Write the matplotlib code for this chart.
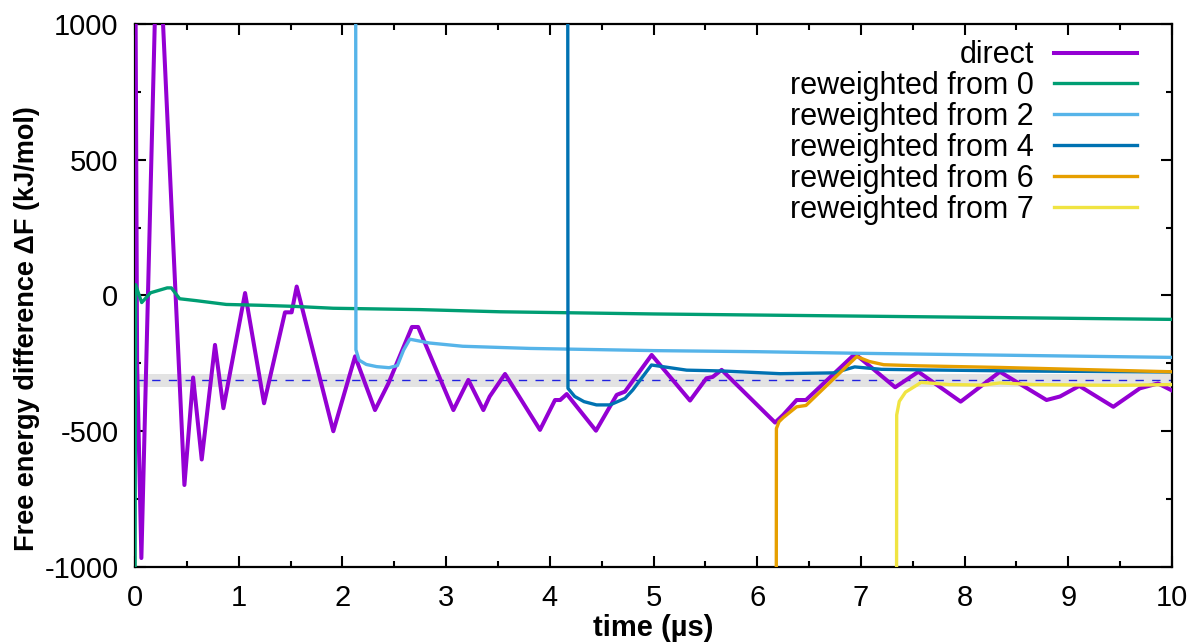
import numpy as np
import matplotlib.pyplot as plt
from matplotlib.ticker import MultipleLocator

plt.rcParams['font.family'] = ['Liberation Sans', 'DejaVu Sans']
plt.rcParams['axes.unicode_minus'] = False

# direct estimate
direct_t = [0.0, 0.02, 0.061, 0.19, 0.23, 0.27, 0.476, 0.56, 0.643, 0.771, 0.852, 1.061,
            1.244, 1.446, 1.51, 1.559, 1.912, 2.122, 2.314, 2.443, 2.67, 2.73, 3.07, 3.214,
            3.359, 3.42, 3.568, 3.905, 4.05, 4.10, 4.163, 4.445, 4.645, 4.725, 4.982, 5.352,
            5.51, 5.57, 5.657, 6.172, 6.25, 6.38, 6.47, 6.943, 7.33, 7.554, 7.962, 8.34,
            8.79, 8.92, 9.106, 9.434, 9.69, 9.865, 10.0]
direct_v = [1500, -250, -967, 1000, 1400, 1000, -698, -302, -604, -182, -415, 9,
            -397, -62, -62, 33, -500, -224, -422, -324, -116, -116, -422, -311,
            -422, -372, -289, -495, -385, -385, -363, -498, -366, -354, -219, -387,
            -305, -300, -274, -468, -440, -385, -385, -215, -338, -281, -391, -281,
            -385, -372, -333, -410, -342, -324, -350]

# reweighted from 0
rw0_t = [0.0, 0.005, 0.064, 0.15, 0.31, 0.35, 0.43, 0.59, 0.88, 1.2, 1.53, 1.91, 2.75,
         3.52, 5.0, 7.0, 8.5, 10.0]
rw0_v = [-1100, 40, -26, 10, 28, 28, -12, -19, -33, -36, -40, -47, -52,
         -60, -68, -76, -82, -88]

# reweighted from 2
rw2_t = [2.125, 2.13, 2.16, 2.23, 2.33, 2.45, 2.53, 2.59, 2.65, 2.84, 3.16, 3.81,
         5.0, 6.0, 7.0, 8.0, 9.0, 10.0]
rw2_v = [3000, -200, -238, -254, -262, -266, -258, -201, -161, -175, -187, -195,
         -203, -207, -213, -218, -223, -228]

# reweighted from 4
rw4_t = [4.170, 4.175, 4.24, 4.33, 4.45, 4.58, 4.725, 4.80, 4.98, 5.32, 5.66, 6.22,
         6.74, 6.94, 7.2, 7.6, 8.5, 10.0]
rw4_v = [3000, -342, -372, -391, -403, -403, -379, -348, -256, -275, -278, -288,
         -285, -263, -272, -274, -278, -282]

# reweighted from 6
rw6_t = [6.18, 6.185, 6.21, 6.25, 6.38, 6.47, 6.96, 7.08, 7.22, 7.55, 8.34, 10.0]
rw6_v = [-3000, -490, -465, -450, -410, -405, -225, -243, -255, -259, -265, -281]

# reweighted from 7
rw7_t = [7.34, 7.345, 7.37, 7.43, 7.54, 7.58, 7.85, 8.18, 8.34, 8.66, 9.46, 10.0]
rw7_v = [-3000, -440, -390, -356, -330, -320, -328, -330, -322, -328, -331, -328]

# reference value and its error band
ref_mean = -313
ref_err = 24

fig = plt.figure(figsize=(11.93, 6.43), dpi=100)
ax = fig.add_axes([0.1132, 0.1182, 0.8692, 0.8445])

ax.axhspan(ref_mean - ref_err, ref_mean + ref_err, color='#e3e3e3', lw=0, zorder=1)
ax.axhline(ref_mean, color='#2020e0', lw=1.0, dashes=(6, 6), zorder=2)

ax.plot(direct_t, direct_v, color='#9400d3', lw=2.9, label='direct', zorder=3)
ax.plot(rw0_t, rw0_v, color='#009e73', lw=2.4, label='reweighted from 0', zorder=4)
ax.plot(rw2_t, rw2_v, color='#56b4e9', lw=2.4, label='reweighted from 2', zorder=4)
ax.plot(rw4_t, rw4_v, color='#0072b2', lw=2.4, label='reweighted from 4', zorder=4)
ax.plot(rw6_t, rw6_v, color='#e69f00', lw=2.4, label='reweighted from 6', zorder=4)
ax.plot(rw7_t, rw7_v, color='#f0e442', lw=2.4, label='reweighted from 7', zorder=4)

ax.set_xlim(0, 10)
ax.set_ylim(-1000, 1000)
ax.xaxis.set_major_locator(MultipleLocator(1))
ax.xaxis.set_minor_locator(MultipleLocator(0.5))
ax.yaxis.set_major_locator(MultipleLocator(500))
ax.yaxis.set_minor_locator(MultipleLocator(250))
ax.tick_params(which='both', direction='in', top=True, right=True, labelsize=21, width=1.5)
ax.tick_params(axis='x', which='major', length=8, pad=12)
ax.tick_params(axis='y', which='major', length=8, pad=12)
ax.tick_params(which='minor', length=4)
for s in ax.spines.values():
    s.set_linewidth(1.6)

ax.set_xlabel('time (µs)', fontsize=21, fontweight='bold', labelpad=2)
ax.set_ylabel('Free energy difference ΔF (kJ/mol)', fontsize=19.5, fontweight='bold')
ax.yaxis.set_label_coords(-0.092, 0.44)

leg = ax.legend(loc='upper right', bbox_to_anchor=(0.966, 0.970), frameon=False,
                markerfirst=False, fontsize=22, handlelength=2.7, labelspacing=0.03,
                borderaxespad=0, borderpad=0, handletextpad=0.66)
for t in leg.get_texts():
    t.set_ha('right')

fig.savefig('out.png', dpi=100)
